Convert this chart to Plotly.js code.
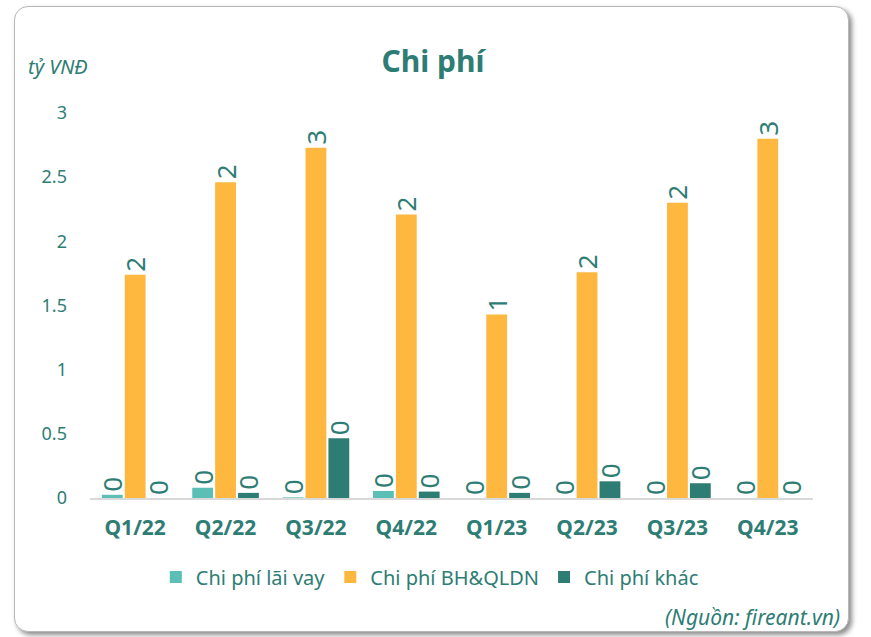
<!DOCTYPE html>
<html>
<head>
<meta charset="utf-8">
<script src="https://cdn.plot.ly/plotly-3.0.1.min.js"></script>
<style>
  html, body { margin:0; padding:0; background:#ffffff; width:871px; height:637px; overflow:hidden; }
  #frame { position:absolute; left:14px; top:6px; width:833px; height:624px; border:1px solid #b8b8b8; border-radius:14px; box-shadow:3px 3px 5px rgba(0,0,0,0.45); background:#fff; }
  #chart { position:absolute; left:0; top:0; width:871px; height:637px; }
</style>
</head>
<body>
<div id="frame"></div>
<div id="chart"></div>
<script>
const categories = ["Q1/22","Q2/22","Q3/22","Q4/22","Q1/23","Q2/23","Q3/23","Q4/23"];
const laiVay = [0.025, 0.08, 0.005, 0.055, 0, 0, 0, 0];
const bhQldn = [1.74, 2.46, 2.73, 2.21, 1.43, 1.76, 2.30, 2.80];
const khac   = [0, 0.04, 0.465, 0.05, 0.04, 0.13, 0.115, 0];
const seriesNames = ["Chi phí lãi vay", "Chi phí BH&QLDN", "Chi phí khác"];
const yTicks = [0, 0.5, 1, 1.5, 2, 2.5, 3];

const teal = "#2E7D74";
const FONT = "Noto Sans, Open Sans, sans-serif";
function mk(vals, name, color) {
  return {
    type: "bar", x: categories, y: vals, name: name,
    marker: { color: color },
    text: vals.map(v => String(Math.round(v))),
    textposition: "outside", textangle: -90, constraintext: "none",
    cliponaxis: false,
    textfont: { family: FONT, size: 26, color: teal },
    hoverinfo: "x+y+name"
  };
}
const data = [
  mk(laiVay, seriesNames[0], "#5CBFB6"),
  mk(bhQldn, seriesNames[1], "#FEB83F"),
  mk(khac, seriesNames[2], "#2E7D74")
];
const layout = {
  width: 871, height: 637,
  paper_bgcolor: "rgba(0,0,0,0)", plot_bgcolor: "rgba(0,0,0,0)",
  margin: { l: 90, r: 58, t: 113, b: 139 },
  barmode: "group", bargap: 0.24, bargroupgap: 0.09,
  font: { family: FONT, color: teal },
  title: { text: "<b>Chi phí</b>", x: 0.497, xanchor: "center", y: 0.903, yanchor: "middle", font: { family: FONT, size: 30, color: teal } },
  xaxis: {
    showgrid: false, zeroline: false, showline: true, linecolor: "#d9d9d9", linewidth: 2,
    tickfont: { family: FONT, size: 21, color: teal, weight: "bold" },
    ticks: "", ticklabelstandoff: 10
  },
  yaxis: {
    range: [0, 3], tickvals: yTicks, ticktext: yTicks.map(String),
    showgrid: false, zeroline: false, showline: false,
    tickfont: { family: FONT, size: 18, color: teal },
    ticks: "", ticklabelstandoff: 22
  },
  showlegend: true,
  legend: { orientation: "h", x: 0.47, xanchor: "center", y: -0.205, yanchor: "middle",
    font: { family: FONT, size: 20, color: teal }, itemwidth: 30, traceorder: "normal" },
  annotations: [
    { text: "<i>tỷ VNĐ</i>", xref: "paper", yref: "paper", x: -0.088, y: 1.12, xanchor: "left", yanchor: "middle", showarrow: false, font: { family: FONT, size: 20, color: teal } },
    { text: "<i>(Nguồn: fireant.vn)</i>", xref: "paper", yref: "paper", x: 1.04, y: -0.31, xanchor: "right", yanchor: "middle", showarrow: false, font: { family: FONT, size: 21, color: teal } }
  ]
};
Plotly.newPlot("chart", data, layout, { displayModeBar: false, staticPlot: true });
</script>
</body>
</html>
